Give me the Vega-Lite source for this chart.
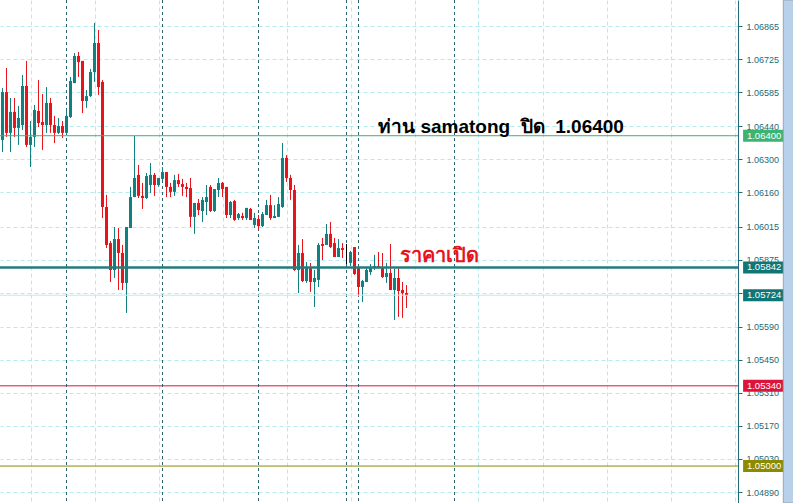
{
  "$schema": "https://vega.github.io/schema/vega-lite/v6.json",
  "width": 738,
  "height": 503,
  "autosize": {"type": "none"},
  "padding": {"left": 0, "top": 0, "right": 55, "bottom": 0},
  "background": "#ffffff",
  "config": {"view": {"stroke": null}, "axis": {"labelOverlap": false}, "axisY": {"labelOverlap": false}, "axisRight": {"labelOverlap": false}},
  "datasets": {
    "candles": [
      {"t":0,"o":1.06382,"h":1.06602,"l":1.06331,"c":1.06585},
      {"t":1,"o":1.06585,"h":1.06687,"l":1.06395,"c":1.06412},
      {"t":2,"o":1.06412,"h":1.06560,"l":1.06331,"c":1.06501},
      {"t":3,"o":1.06501,"h":1.06560,"l":1.06395,"c":1.06433},
      {"t":4,"o":1.06433,"h":1.06526,"l":1.06361,"c":1.06475},
      {"t":5,"o":1.06445,"h":1.06657,"l":1.06424,"c":1.06611},
      {"t":6,"o":1.06611,"h":1.06717,"l":1.06352,"c":1.06361},
      {"t":7,"o":1.06361,"h":1.06462,"l":1.06267,"c":1.06395},
      {"t":8,"o":1.06395,"h":1.06530,"l":1.06352,"c":1.06509},
      {"t":9,"o":1.06505,"h":1.06636,"l":1.06437,"c":1.06454},
      {"t":10,"o":1.06458,"h":1.06577,"l":1.06340,"c":1.06445},
      {"t":11,"o":1.06445,"h":1.06606,"l":1.06412,"c":1.06539},
      {"t":12,"o":1.06539,"h":1.06560,"l":1.06412,"c":1.06445},
      {"t":13,"o":1.06445,"h":1.06484,"l":1.06369,"c":1.06412},
      {"t":14,"o":1.06412,"h":1.06475,"l":1.06407,"c":1.06441},
      {"t":15,"o":1.06441,"h":1.06462,"l":1.06390,"c":1.06412},
      {"t":16,"o":1.06412,"h":1.06509,"l":1.06403,"c":1.06484},
      {"t":17,"o":1.06479,"h":1.06649,"l":1.06475,"c":1.06632},
      {"t":18,"o":1.06623,"h":1.06751,"l":1.06623,"c":1.06738},
      {"t":19,"o":1.06738,"h":1.06755,"l":1.06649,"c":1.06712},
      {"t":20,"o":1.06717,"h":1.06717,"l":1.06496,"c":1.06547},
      {"t":21,"o":1.06547,"h":1.06594,"l":1.06518,"c":1.06568},
      {"t":22,"o":1.06568,"h":1.06683,"l":1.06564,"c":1.06670},
      {"t":23,"o":1.06670,"h":1.06878,"l":1.06628,"c":1.06793},
      {"t":24,"o":1.06793,"h":1.06848,"l":1.06573,"c":1.06606},
      {"t":25,"o":1.06628,"h":1.06636,"l":1.06051,"c":1.06098},
      {"t":26,"o":1.06098,"h":1.06149,"l":1.05924,"c":1.05937},
      {"t":27,"o":1.05945,"h":1.05954,"l":1.05780,"c":1.05831},
      {"t":28,"o":1.05831,"h":1.06013,"l":1.05797,"c":1.05962},
      {"t":29,"o":1.05962,"h":1.06009,"l":1.05746,"c":1.05903},
      {"t":30,"o":1.05903,"h":1.05937,"l":1.05746,"c":1.05776},
      {"t":31,"o":1.05776,"h":1.06013,"l":1.05649,"c":1.06013},
      {"t":32,"o":1.06009,"h":1.06183,"l":1.06009,"c":1.06140},
      {"t":33,"o":1.06140,"h":1.06399,"l":1.06140,"c":1.06221},
      {"t":34,"o":1.06234,"h":1.06276,"l":1.06136,"c":1.06145},
      {"t":35,"o":1.06145,"h":1.06200,"l":1.06090,"c":1.06136},
      {"t":36,"o":1.06136,"h":1.06242,"l":1.06132,"c":1.06229},
      {"t":37,"o":1.06191,"h":1.06284,"l":1.06157,"c":1.06234},
      {"t":38,"o":1.06234,"h":1.06242,"l":1.06145,"c":1.06191},
      {"t":39,"o":1.06191,"h":1.06221,"l":1.06183,"c":1.06221},
      {"t":40,"o":1.06217,"h":1.06267,"l":1.06208,"c":1.06246},
      {"t":41,"o":1.06246,"h":1.06246,"l":1.06140,"c":1.06183},
      {"t":42,"o":1.06183,"h":1.06200,"l":1.06140,"c":1.06162},
      {"t":43,"o":1.06162,"h":1.06234,"l":1.06145,"c":1.06212},
      {"t":44,"o":1.06212,"h":1.06238,"l":1.06183,"c":1.06195},
      {"t":45,"o":1.06195,"h":1.06217,"l":1.06145,"c":1.06183},
      {"t":46,"o":1.06183,"h":1.06200,"l":1.06140,"c":1.06174},
      {"t":47,"o":1.06178,"h":1.06221,"l":1.06013,"c":1.06056},
      {"t":48,"o":1.06056,"h":1.06115,"l":1.05984,"c":1.06115},
      {"t":49,"o":1.06115,"h":1.06132,"l":1.06064,"c":1.06085},
      {"t":50,"o":1.06081,"h":1.06140,"l":1.06034,"c":1.06128},
      {"t":51,"o":1.06119,"h":1.06191,"l":1.06064,"c":1.06140},
      {"t":52,"o":1.06183,"h":1.06191,"l":1.06077,"c":1.06081},
      {"t":53,"o":1.06081,"h":1.06174,"l":1.06077,"c":1.06174},
      {"t":54,"o":1.06170,"h":1.06221,"l":1.06140,"c":1.06200},
      {"t":55,"o":1.06200,"h":1.06204,"l":1.06140,"c":1.06174},
      {"t":56,"o":1.06183,"h":1.06183,"l":1.06051,"c":1.06064},
      {"t":57,"o":1.06064,"h":1.06123,"l":1.06051,"c":1.06119},
      {"t":58,"o":1.06123,"h":1.06128,"l":1.06039,"c":1.06043},
      {"t":59,"o":1.06051,"h":1.06073,"l":1.06043,"c":1.06068},
      {"t":60,"o":1.06060,"h":1.06073,"l":1.06043,"c":1.06051},
      {"t":61,"o":1.06051,"h":1.06094,"l":1.06043,"c":1.06094},
      {"t":62,"o":1.06090,"h":1.06094,"l":1.06043,"c":1.06043},
      {"t":63,"o":1.06022,"h":1.06073,"l":1.06009,"c":1.06051},
      {"t":64,"o":1.06047,"h":1.06064,"l":1.06000,"c":1.06017},
      {"t":65,"o":1.06017,"h":1.06077,"l":1.06013,"c":1.06068},
      {"t":66,"o":1.06064,"h":1.06128,"l":1.06064,"c":1.06106},
      {"t":67,"o":1.06106,"h":1.06149,"l":1.06043,"c":1.06051},
      {"t":68,"o":1.06051,"h":1.06106,"l":1.06051,"c":1.06060},
      {"t":69,"o":1.06056,"h":1.06140,"l":1.06056,"c":1.06111},
      {"t":70,"o":1.06098,"h":1.06369,"l":1.06094,"c":1.06306},
      {"t":71,"o":1.06306,"h":1.06318,"l":1.06204,"c":1.06221},
      {"t":72,"o":1.06221,"h":1.06234,"l":1.06128,"c":1.06170},
      {"t":73,"o":1.06170,"h":1.06191,"l":1.05827,"c":1.05831},
      {"t":74,"o":1.05831,"h":1.05937,"l":1.05733,"c":1.05903},
      {"t":75,"o":1.05903,"h":1.05962,"l":1.05780,"c":1.05784},
      {"t":76,"o":1.05784,"h":1.05865,"l":1.05776,"c":1.05844},
      {"t":77,"o":1.05839,"h":1.05861,"l":1.05738,"c":1.05780},
      {"t":78,"o":1.05780,"h":1.05831,"l":1.05674,"c":1.05797},
      {"t":79,"o":1.05789,"h":1.05945,"l":1.05759,"c":1.05937},
      {"t":80,"o":1.05941,"h":1.05967,"l":1.05873,"c":1.05933},
      {"t":81,"o":1.05937,"h":1.06026,"l":1.05937,"c":1.05984},
      {"t":82,"o":1.05984,"h":1.06034,"l":1.05924,"c":1.05928},
      {"t":83,"o":1.05945,"h":1.05967,"l":1.05886,"c":1.05886},
      {"t":84,"o":1.05886,"h":1.05962,"l":1.05886,"c":1.05924},
      {"t":85,"o":1.05924,"h":1.05945,"l":1.05882,"c":1.05916},
      {"t":86,"o":1.05878,"h":1.05941,"l":1.05856,"c":1.05878},
      {"t":87,"o":1.05861,"h":1.05912,"l":1.05848,"c":1.05907},
      {"t":88,"o":1.05928,"h":1.05928,"l":1.05810,"c":1.05814},
      {"t":89,"o":1.05839,"h":1.05844,"l":1.05725,"c":1.05759},
      {"t":90,"o":1.05759,"h":1.05789,"l":1.05695,"c":1.05784},
      {"t":91,"o":1.05780,"h":1.05844,"l":1.05780,"c":1.05831},
      {"t":92,"o":1.05822,"h":1.05856,"l":1.05810,"c":1.05839},
      {"t":93,"o":1.05839,"h":1.05895,"l":1.05831,"c":1.05848},
      {"t":94,"o":1.05848,"h":1.05907,"l":1.05839,"c":1.05839},
      {"t":95,"o":1.05839,"h":1.05903,"l":1.05797,"c":1.05801},
      {"t":96,"o":1.05801,"h":1.05861,"l":1.05776,"c":1.05818},
      {"t":97,"o":1.05818,"h":1.05941,"l":1.05746,"c":1.05746},
      {"t":98,"o":1.05746,"h":1.05835,"l":1.05619,"c":1.05797},
      {"t":99,"o":1.05797,"h":1.05839,"l":1.05632,"c":1.05742},
      {"t":100,"o":1.05746,"h":1.05780,"l":1.05628,"c":1.05733},
      {"t":101,"o":1.05733,"h":1.05767,"l":1.05670,"c":1.05724}
    ],
    "levels": [
      {"name":"close","price":1.064},
      {"name":"open","price":1.05842},
      {"name":"bid","price":1.05724},
      {"name":"mid","price":1.0534},
      {"name":"low","price":1.05}
    ],
    "seps": [{"t":16},{"t":40},{"t":64},{"t":86},{"t":89},{"t":113}],
    "noteA": [{"label":"ท่าน samatong\u00a0 ปิด\u00a0 1.06400","t":93.9,"price":1.064}],
    "noteB": [{"label":"ราคาเปิด","t":99.4,"price":1.05842}]
  },
  "encoding": {
    "y": {"type": "quantitative",
      "scale": {"domain": [1.048434, 1.069752], "nice": false, "zero": false, "padding": 0},
      "axis": {"orient": "right", "title": null,
        "values": [1.06865,1.06725,1.06585,1.0644,1.063,1.0616,1.06015,1.05875,1.05735,1.0559,1.0545,1.0531,1.0517,1.0503,1.0489],
        "format": ".5f", "labelFont": "Liberation Sans", "labelFontSize": 9, "labelColor": "#226b78",
        "labelOverlap": false, "labelFlush": false, "labelBound": false,
        "domainColor": "#226b78", "tickColor": "#226b78", "tickSize": 4, "labelPadding": 4,
        "grid": true, "gridColor": "#b3ebef", "gridDash": [4, 3], "gridWidth": 1}}
  },
  "layer": [
    {
      "data": {"name": "seps"},
      "mark": {"type": "rule", "color": "#2e6470", "strokeWidth": 1, "strokeDash": [3, 3]},
      "encoding": {
        "y": null,
        "x": {"field": "t", "type": "quantitative",
          "scale": {"domain": [-0.625, 183.875], "nice": false, "zero": false, "padding": 0},
          "axis": {"values": [7,15,23,31,39,47,55,63,71,79,87,95,103,111,119,127,135,143,151,159,167,175,183],
            "labels": false, "ticks": false, "domain": false, "title": null,
            "grid": true, "gridColor": "#b3ebef", "gridDash": [4, 3], "gridWidth": 1}}
      }
    },
    {
      "data": {"name": "candles"},
      "mark": {"type": "rule", "strokeWidth": 1},
      "encoding": {
        "x": {"field": "t", "type": "quantitative"},
        "y": {"field": "l", "type": "quantitative"},
        "y2": {"field": "h"},
        "color": {"condition": [
          {"test": "datum.c == datum.o", "value": "#000000"},
          {"test": "datum.c > datum.o", "value": "#138080"}],
          "value": "#e8141b"}
      }
    },
    {
      "data": {"name": "candles"},
      "mark": {"type": "bar", "width": 3},
      "encoding": {
        "x": {"field": "t", "type": "quantitative"},
        "y": {"field": "o", "type": "quantitative"},
        "y2": {"field": "c"},
        "color": {"condition": [
          {"test": "datum.c == datum.o", "value": "#000000"},
          {"test": "datum.c > datum.o", "value": "#138080"}],
          "value": "#e8141b"}
      }
    },
    {
      "data": {"name": "levels"},
      "mark": {"type": "rule"},
      "encoding": {
        "y": {"field": "price", "type": "quantitative"},
        "stroke": {"field": "name", "type": "nominal", "legend": null,
          "scale": {"domain": ["close","open","bid","mid","low"],
                    "range": ["#3cb371","#257b7b","#b6eeee","#dc143c","#8b8b00"]}},
        "strokeWidth": {"condition": {"test": "datum.name == 'open'", "value": 2.5}, "value": 1}
      }
    },
    {
      "data": {"name": "levels"},
      "mark": {"type": "rect", "width": 42, "height": 12},
      "encoding": {
        "x": {"datum": 190.4},
        "y": {"field": "price", "type": "quantitative"},
        "fill": {"field": "name", "type": "nominal", "legend": null,
          "scale": {"domain": ["close","open","bid","mid","low"],
                    "range": ["#3cb371","#0f7575","#0f7575","#dc143c","#8b8a00"]}}
      }
    },
    {
      "data": {"name": "levels"},
      "mark": {"type": "text", "font": "Liberation Sans", "fontSize": 9.5, "color": "#ffffff", "align": "center", "baseline": "middle"},
      "encoding": {
        "x": {"datum": 190.4},
        "y": {"field": "price", "type": "quantitative"},
        "text": {"field": "price", "type": "quantitative", "format": ".5f"}
      }
    },
    {
      "data": {"name": "noteA"},
      "mark": {"type": "text", "font": "Liberation Sans", "fontWeight": "bold", "fontSize": 19, "color": "#000000", "align": "left", "baseline": "alphabetic", "dy": -3},
      "encoding": {
        "x": {"field": "t", "type": "quantitative"},
        "y": {"field": "price", "type": "quantitative"},
        "text": {"field": "label"}
      }
    },
    {
      "data": {"name": "noteB"},
      "mark": {"type": "text", "font": "Liberation Sans", "fontWeight": "bold", "fontSize": 20, "color": "#e8141b", "align": "left", "baseline": "alphabetic", "dy": -5},
      "encoding": {
        "x": {"field": "t", "type": "quantitative"},
        "y": {"field": "price", "type": "quantitative"},
        "text": {"field": "label"}
      }
    },
    {
      "data": {"values": [{}]},
      "mark": {"type": "rect", "fill": "#b8d0ea", "stroke": "#9aa4ae", "strokeWidth": 1},
      "encoding": {
        "x": {"datum": 195.2},
        "x2": {"datum": 199},
        "y": {"datum": 1.069752},
        "y2": {"datum": 1.048434}
      }
    }
  ]
}
